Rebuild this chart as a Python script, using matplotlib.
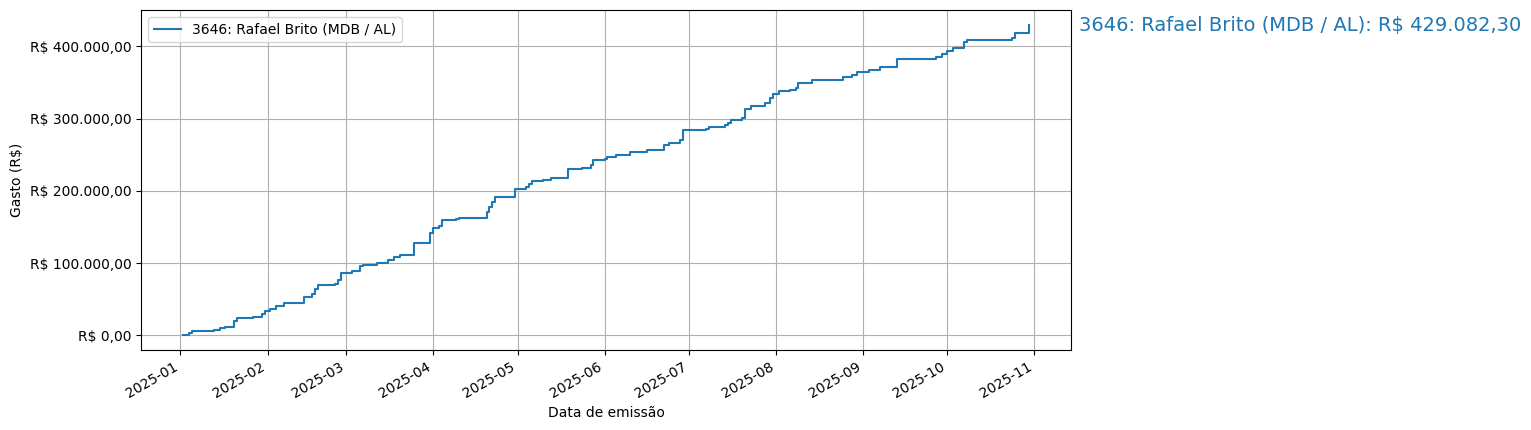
import matplotlib
matplotlib.use('Agg')
from matplotlib import pyplot as plt
from matplotlib.ticker import FuncFormatter
import matplotlib.dates as mdates
import numpy as np

label = '3646: Rafael Brito (MDB / AL)'
total = 429082.30

dates = ['2025-01-02', '2025-01-04', '2025-01-05', '2025-01-13', '2025-01-15', '2025-01-17',
         '2025-01-20', '2025-01-21', '2025-01-27', '2025-01-30', '2025-01-31', '2025-02-02',
         '2025-02-04', '2025-02-07', '2025-02-14', '2025-02-17', '2025-02-18', '2025-02-19',
         '2025-02-25', '2025-02-26', '2025-02-27', '2025-03-03', '2025-03-06', '2025-03-07',
         '2025-03-12', '2025-03-16', '2025-03-18', '2025-03-20', '2025-03-25', '2025-03-31',
         '2025-04-01', '2025-04-03', '2025-04-04', '2025-04-09', '2025-04-10', '2025-04-20',
         '2025-04-21', '2025-04-22', '2025-04-23', '2025-04-30', '2025-05-04', '2025-05-05',
         '2025-05-06', '2025-05-10', '2025-05-13', '2025-05-19', '2025-05-24', '2025-05-27',
         '2025-05-28', '2025-06-01', '2025-06-02', '2025-06-05', '2025-06-10', '2025-06-16',
         '2025-06-22', '2025-06-24', '2025-06-28', '2025-06-29', '2025-07-07', '2025-07-08',
         '2025-07-14', '2025-07-15', '2025-07-16', '2025-07-20', '2025-07-21', '2025-07-23',
         '2025-07-28', '2025-07-30', '2025-07-31', '2025-08-02', '2025-08-06', '2025-08-08',
         '2025-08-09', '2025-08-14', '2025-08-25', '2025-08-28', '2025-08-30', '2025-09-03',
         '2025-09-07', '2025-09-13', '2025-09-27', '2025-09-29', '2025-10-01', '2025-10-03',
         '2025-10-07', '2025-10-08', '2025-10-24', '2025-10-25', '2025-10-30']
values = [1000, 3000, 6500, 7500, 9500, 12000,
          20000, 24000, 25000, 30000, 33000, 36000,
          41000, 44000, 53000, 57000, 64000, 70000,
          71000, 76000, 86000, 89000, 96000, 98000,
          100000, 104000, 108000, 111000, 128000, 142000,
          149000, 152000, 160000, 161000, 163000, 171000,
          178000, 185000, 192000, 203000, 205000, 210000,
          214000, 215000, 218000, 230000, 231000, 236000,
          243000, 244000, 247000, 250000, 254000, 257000,
          263000, 266000, 270000, 284000, 285000, 288000,
          291000, 294000, 298000, 301000, 314000, 317000,
          321000, 328000, 334000, 338000, 339000, 342000,
          350000, 354000, 358000, 360000, 365000, 368000,
          371000, 383000, 386000, 390000, 394000, 398000,
          406000, 409000, 412000, 418000, 429082.30]


def brl(v, pos=None):
    s = '{:,.2f}'.format(v).replace(',', 'X').replace('.', ',').replace('X', '.')
    return 'R$ ' + s


x = np.array(dates, dtype='datetime64[D]')

fig = plt.figure(figsize=(15.31, 4.30), dpi=100)
ax = fig.add_axes([141/1531, 80/430, (1071-141)/1531, 340/430])
line, = ax.plot(x, values, drawstyle='steps-post', label=label)
ax.grid(True)
ax.yaxis.set_major_formatter(FuncFormatter(brl))
ax.set_yticks([0, 100000, 200000, 300000, 400000])
ax.xaxis.set_major_locator(mdates.MonthLocator())
ax.xaxis.set_major_formatter(mdates.DateFormatter('%Y-%m'))
for t in ax.get_xticklabels():
    t.set_rotation(30)
    t.set_ha('right')
ax.set_xlabel('Data de emissão')
ax.set_ylabel('Gasto (R$)')
ax.legend(loc='upper left')
fig.text(1079/1531, 1 - 25/430, '%s: %s' % (label, brl(total)), color=line.get_color(),
         fontsize=14, va='center', ha='left')

fig.savefig('out.png', dpi=100)
